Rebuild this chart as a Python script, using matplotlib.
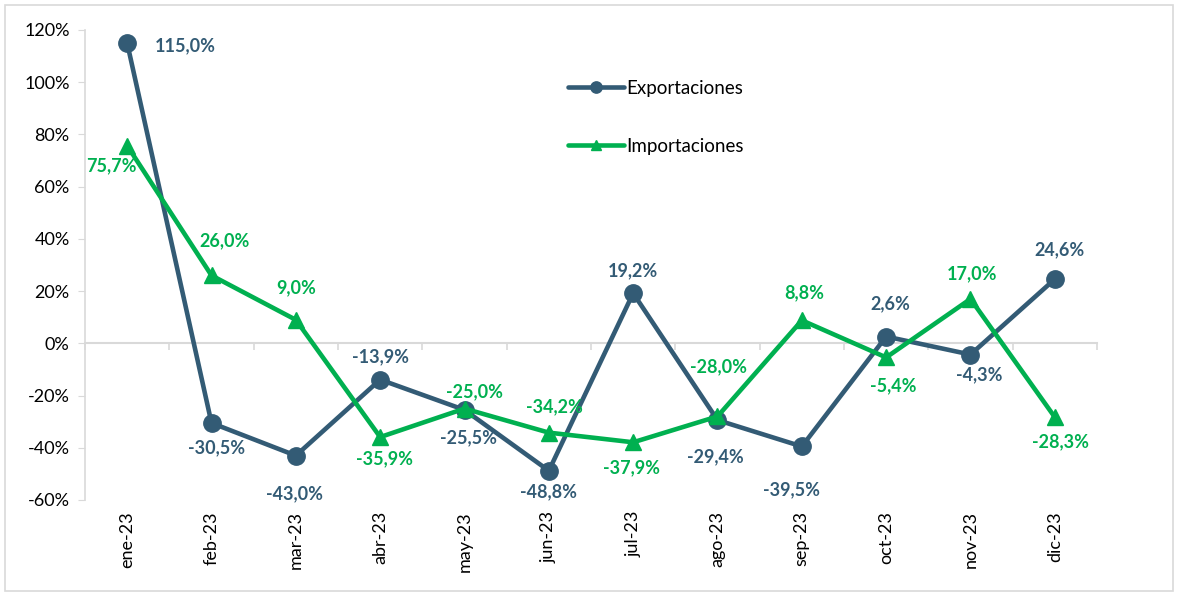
import matplotlib.pyplot as plt
from matplotlib.patches import Rectangle
from matplotlib.ticker import FuncFormatter

plt.rcParams['font.family'] = ['Lato', 'DejaVu Sans']

# Data
months = ['ene-23', 'feb-23', 'mar-23', 'abr-23', 'may-23', 'jun-23',
          'jul-23', 'ago-23', 'sep-23', 'oct-23', 'nov-23', 'dic-23']
exportaciones = [115.0, -30.5, -43.0, -13.9, -25.5, -48.8, 19.2, -29.4, -39.5, 2.6, -4.3, 24.6]
importaciones = [75.7, 26.0, 9.0, -35.9, -25.0, -34.2, -37.9, -28.0, 8.8, -5.4, 17.0, -28.3]

# Label offsets in pixels (dx, dy)
exp_offsets = [(58, -3), (5, -25), (-1, -38), (0, 23), (4, -28), (0, -21),
               (0, 22), (-2, -37), (-10, -43), (4, 33), (9, -20), (5, 29)]
imp_offsets = [(-16, -20), (13, 35), (0, 32), (4, -22), (10, 17), (6, 26),
               (-2, -25), (1, 50), (2, 28), (7, -28), (2, 25), (6, -25)]

colors = {'exp': '#335B75', 'imp': '#00B050'}
grid_gray = '#D9D9D9'

fig = plt.figure(figsize=(11.78, 5.93), dpi=100)
ax = fig.add_axes([85/1178, 1-500/593, 1012/1178, 470/593])

x = list(range(len(months)))
ax.plot(x, exportaciones, color=colors['exp'], lw=3.3, marker='o', markersize=12.5,
        label='Exportaciones', solid_capstyle='round', zorder=3)
ax.plot(x, importaciones, color=colors['imp'], lw=3.3, marker='^', markersize=11,
        label='Importaciones', solid_capstyle='round', zorder=4)

def fmt(v):
    return f'{v:.1f}%'.replace('.', ',')

for i, v in enumerate(exportaciones):
    ax.annotate(fmt(v), (i, v), xytext=exp_offsets[i], textcoords='offset pixels',
                ha='center', va='center', color=colors['exp'], fontsize=13,
                fontweight='bold', zorder=5)
for i, v in enumerate(importaciones):
    ax.annotate(fmt(v), (i, v), xytext=imp_offsets[i], textcoords='offset pixels',
                ha='center', va='center', color=colors['imp'], fontsize=13,
                fontweight='bold', zorder=5)

# Axes
ax.set_xlim(-0.5, len(months) - 0.5)
ax.set_ylim(-60, 120)
ax.set_yticks(range(-60, 121, 20))
ax.yaxis.set_major_formatter(FuncFormatter(lambda v, p: f'{v:.0f}%'))
ax.tick_params(axis='y', length=5, color=grid_gray, labelsize=13, pad=6)
ax.set_xticks(x)
ax.set_xticklabels(months, rotation=90)
ax.tick_params(axis='x', length=0, labelsize=13, pad=8)

for s in ['top', 'right', 'bottom']:
    ax.spines[s].set_visible(False)
ax.spines['left'].set_color(grid_gray)
ax.spines['left'].set_linewidth(1.2)

# Zero line with category tick marks
zero_frac = (0 - (-60)) / 180
sec = ax.secondary_xaxis(zero_frac)
sec.set_xticks([i + 0.5 for i in range(-1, len(months))])
sec.set_xticklabels([])
sec.tick_params(axis='x', length=5, color=grid_gray, width=1.2)
sec.spines['bottom'].set_color(grid_gray)
sec.spines['bottom'].set_linewidth(1.5)

# Legend
ax.legend(loc='upper left', bbox_to_anchor=(0.470, 0.91), frameon=False,
          fontsize=13.5, handlelength=3.0, handletextpad=0.1, labelspacing=2.2,
          borderaxespad=0, markerscale=0.65)

# Figure border
fig.patches.append(Rectangle((5/1178, 2/593), 1-10/1178, 1-7/593,
                             transform=fig.transFigure, fill=False,
                             edgecolor=grid_gray, lw=1.2))

fig.savefig('out.png', dpi=100)
